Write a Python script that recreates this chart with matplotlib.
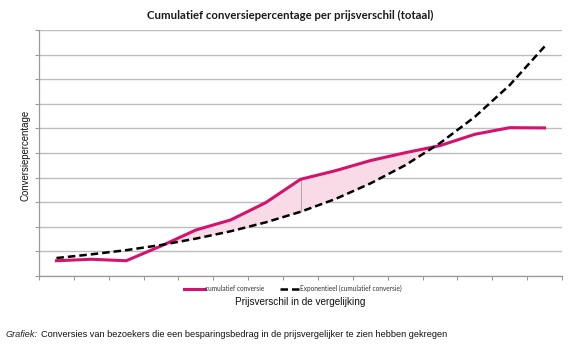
import matplotlib.pyplot as plt
import numpy as np

# categories (price difference buckets, unlabeled in the source)
categories = list(range(1, 16))
cumulatief = [0.62, 0.68, 0.62, 1.22, 1.87, 2.28, 2.98, 3.93, 4.28, 4.69, 5.01, 5.30, 5.76, 6.03, 6.02]
exponentieel = [0.73, 0.88, 1.05, 1.26, 1.52, 1.82, 2.18, 2.61, 3.13, 3.76, 4.50, 5.40, 6.47, 7.76, 9.33]

title = 'Cumulatief conversiepercentage per prijsverschil (totaal)'
ylabel = 'Conversiepercentage'
xlabel = 'Prijsverschil in de vergelijking'
legend_labels = ['cumulatief conversie', 'Exponentieel (cumulatief conversie)']
caption_lead = 'Grafiek:'
caption = 'Conversies van bezoekers die een besparingsbedrag in de prijsvergelijker te zien hebben gekregen'

PINK = '#d4136f'
FILL = '#f8dbe7'
GRID = '#bdbdbd'

fig = plt.figure(figsize=(5.72, 3.51), dpi=100)
ax = fig.add_axes([39 / 572, 75 / 351, 523 / 572, 246 / 351])

x = np.array(categories)
y1 = np.array(cumulatief)
y2 = np.array(exponentieel)

ax.fill_between(x, y1, y2, where=y1 > y2, interpolate=True, color=FILL, zorder=1, linewidth=0)
# thin drop line between both series at the 8th bucket
ax.vlines(x[7], y2[7], y1[7], color='#a0a0a0', linewidth=0.6, zorder=2)

line1, = ax.plot(x, y1, color=PINK, linewidth=2.2, zorder=4, solid_joinstyle='miter')
line2, = ax.plot(x, y2, color='black', linewidth=1.8, linestyle=(0, (3, 1.6)), zorder=5)

ax.set_xlim(0.5, 15.5)
ax.set_ylim(0, 10)
ax.set_xticks(np.arange(0.5, 16, 1))
ax.set_yticks(np.arange(0, 11, 1))
ax.set_xticklabels([])
ax.set_yticklabels([])
ax.yaxis.grid(True, color=GRID, linewidth=1.0)
ax.set_axisbelow(True)
ax.tick_params(axis='both', length=3, width=0.8, color='#9a9a9a', direction='out')
for s in ['top', 'right']:
    ax.spines[s].set_visible(False)
for s in ['left', 'bottom']:
    ax.spines[s].set_color('#9a9a9a')
    ax.spines[s].set_linewidth(0.9)

fig.text(0.507, 0.957, title, ha='center', va='center', fontsize=8.2,
         fontweight='bold', family='Lato', color='#1a1a1a')
fig.text(0.045, 0.558, ylabel, rotation=90, ha='center', va='center',
         fontsize=6.9, family='Liberation Sans', color='#111111')
fig.text(0.525, 0.139, xlabel, ha='center', va='center', fontsize=7.2,
         family='Liberation Sans', color='#111111')

leg = fig.legend([line1, line2], legend_labels, loc='center', bbox_to_anchor=(0.512, 0.177),
                 ncol=2, frameon=False, prop={'family': 'Lato', 'size': 4.7},
                 handlelength=3.2, handletextpad=0.0, columnspacing=2.4)
for t in leg.get_texts():
    t.set_color('#333333')

fig.text(6 / 572, 0.046, caption_lead, ha='left', va='center', fontsize=6.6,
         style='italic', family='Liberation Sans', color='#222222')
fig.text(41 / 572, 0.046, caption, ha='left', va='center', fontsize=6.6,
         family='Liberation Sans', color='#111111')

fig.savefig('out.png', dpi=100)
